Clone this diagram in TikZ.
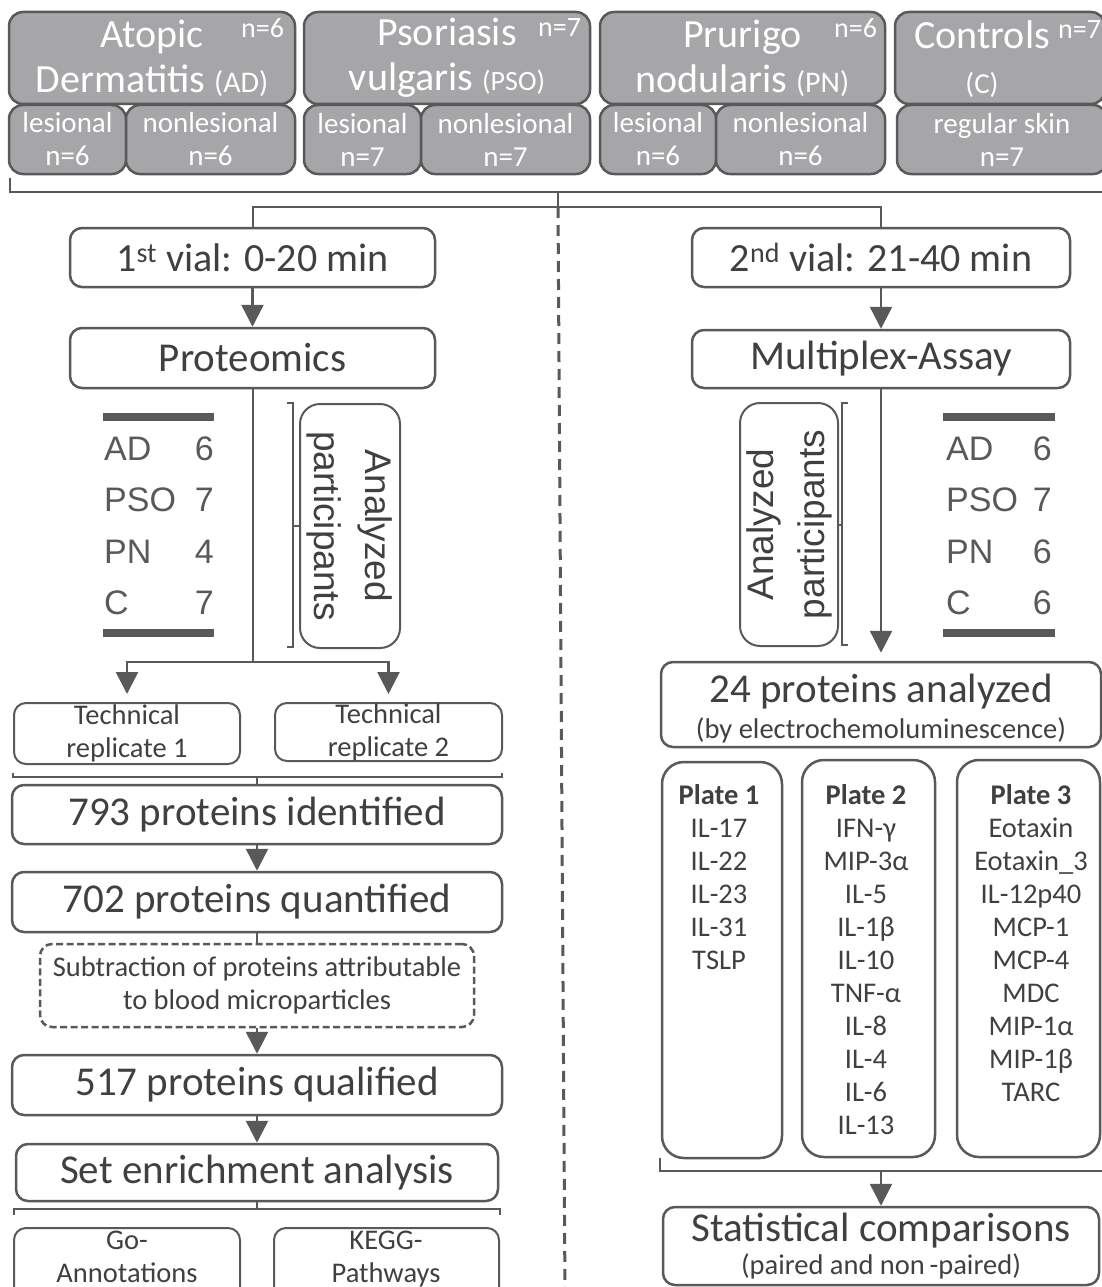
\documentclass[tikz,border=0pt]{standalone}
\usepackage{fontspec}
\setmainfont{Carlito}
\newfontfamily\tabfont{Liberation Sans}
\usetikzlibrary{arrows.meta, positioning}
\definecolor{linegray}{HTML}{595959}
\definecolor{textgray}{HTML}{404040}
\definecolor{boxgray}{HTML}{A6A6A8}
\newcommand{\setfs}[2]{\fontsize{#1pt}{#2pt}\selectfont}

\tikzset{
  graybox/.style={draw=linegray, line width=2.5pt, fill=boxgray, rounded corners=14pt, inner sep=0pt, text=white, align=center},
  bigbox/.style={graybox, minimum height=92pt, font=\setfs{40}{45}},
  subbox/.style={graybox, minimum height=69pt, font=\setfs{29}{33}},
  nlab/.style={inner sep=0pt, text=white, font=\setfs{28}{30}},
  flowbox/.style={draw=linegray, line width=2.5pt, rounded corners=12pt, inner sep=0pt, text=textgray, align=center, font=\setfs{41}{46}},
  smallbox/.style={flowbox, line width=2pt, font=\setfs{28.5}{33}},
  smalltxt/.style={inner sep=0pt, text=textgray, align=center, font=\setfs{28.5}{33}},
  platebox/.style={draw=linegray, line width=2.5pt, rounded corners=22pt, inner sep=0pt},
  platetxt/.style={smalltxt, anchor=north},
  partbox/.style={flowbox, line width=2pt, rounded corners=20pt, font=\tabfont\setfs{37}{51}},
  conn/.style={draw=linegray, line width=2.5pt},
  arr/.style={conn, -{Triangle[length=22pt, width=22pt]}},
  brack/.style={draw=linegray, line width=2pt},
  tabrule/.style={draw=linegray, line width=8pt},
  tablab/.style={text=linegray, inner sep=0pt, font=\tabfont\setfs{34}{38}},
}

\begin{document}
\begin{tikzpicture}[x=1pt, y=-1pt]
\useasboundingbox (0,0) rectangle (1101,1287);

% patient groups
\node[bigbox, minimum width=286pt] (ad) at (152,58) {Atopic\\Dermatitis {\setfs{30}{30}(AD)}};
\node[nlab, below left=8pt and 12pt of ad.north east] (adn) {n=6};
\node[subbox, minimum width=117pt] (adl) at (67.5,139.5) {lesional\\n=6};
\node[subbox, minimum width=169pt] (adnl) at (210.5,139.5) {nonlesional\\n=6};

\node[bigbox, minimum width=286pt] (pso) at (447,58) {Psoriasis\\vulgaris {\setfs{28}{30}(PSO)}};
\node[nlab, below left=8pt and 10pt of pso.north east] (pson) {n=7};
\node[subbox, minimum width=117pt] (psol) at (362.5,139.5) {lesional\\n=7};
\node[subbox, minimum width=169pt] (psonl) at (505.5,139.5) {nonlesional\\n=7};

\node[bigbox, minimum width=285pt] (pn) at (742.5,58) {Prurigo\\nodularis {\setfs{30}{30}(PN)}};
\node[nlab, below left=8pt and 9pt of pn.north east] (pnn) {n=6};
\node[subbox, minimum width=116pt] (pnl) at (658,139.5) {lesional\\n=6};
\node[subbox, minimum width=169pt] (pnnl) at (800.5,139.5) {nonlesional\\n=6};

\node[bigbox, minimum width=210pt] (ctl) at (1000,58) {};
\node[nlab, font=\setfs{40}{45}, align=center] (ctltxt) at (982,59) {Controls\\{\setfs{29}{30}(C)}};
\node[nlab, anchor=north west] (ctln) at (1058,20) {n=7};
\node[subbox, minimum width=210pt] (ctlr) at (1002,139.5) {regular skin\\n=7};

% split into the two vials
\draw[brack] (10,178) -- (10,192) -- (1105,192);
\coordinate (brtop) at (558,192);
\coordinate (split) at (558,207);
\draw[conn, line width=2pt] (brtop) -- (split);
\draw[linegray, line width=3pt, dash pattern=on 11pt off 7pt] (split) -- (565,1295);

\node[flowbox, minimum width=365pt, minimum height=59pt, font=\setfs{40}{44}] (vial1) at (252.5,257.5) {1\textsuperscript{st} vial: 0-20 min};
\node[flowbox, minimum width=378pt, minimum height=59pt, font=\setfs{40}{44}] (vial2) at (881,257.5) {2\textsuperscript{nd} vial: 21-40 min};
\draw[conn, line width=2pt] (vial1.north) |- (split) -| (vial2.north);

\node[flowbox, minimum width=365pt, minimum height=60pt] (prot) at (252.5,358) {Proteomics};
\node[flowbox, minimum width=378pt, minimum height=58pt] (multi) at (881,359) {Multiplex-Assay};
\draw[arr] (vial1) -- (prot);
\draw[arr] (vial2) -- (multi);

% analyzed participants, left
\draw[tabrule] (103,417) -- (214,417);
\draw[tabrule] (103,633) -- (214,633);
\foreach \lab/\num/\yy in {AD/6/460, PSO/7/511, PN/4/563, C/7/614}{
  \node[tablab, anchor=base west] (tl\lab) at (104,\yy) {\lab};
  \node[tablab, anchor=base east] (tn\lab) at (214,\yy) {\num};
}
\node[partbox, rotate=-90, minimum width=244pt, minimum height=100pt] (anaL) at (350,526) {Analyzed\\participants};
\draw[brack] (287,403) -- (293,403) -- (293,647) -- (287,647);
\draw[brack] (anaL.south) -- ++(-7,0);

% analyzed participants, right
\draw[tabrule] (943,417) -- (1055,417);
\draw[tabrule] (943,633) -- (1055,633);
\foreach \lab/\num/\yy in {AD/6/460, PSO/7/511, PN/6/563, C/6/614}{
  \node[tablab, anchor=base west] (tr\lab) at (946,\yy) {\lab};
  \node[tablab, anchor=base east] (trn\lab) at (1052,\yy) {\num};
}
\node[partbox, rotate=90, minimum width=243pt, minimum height=98pt] (anaR) at (789,524.5) {Analyzed\\participants};
\draw[brack] (848,403) -- (842,403) -- (842,645) -- (848,645);
\draw[brack] (anaR.south) -- ++(4,0);

% proteomics branch
\coordinate (fork) at (252.5,662);
\draw[conn, line width=2pt] (prot) -- (fork);
\node[smallbox, minimum width=226pt, minimum height=61pt] (rep1) at (127,733.5) {Technical\\replicate 1};
\node[smallbox, minimum width=227pt, minimum height=58pt] (rep2) at (388.5,732) {Technical\\replicate 2};
\draw[arr, shorten >=8pt] (fork) -| (rep1);
\draw[arr, shorten >=8pt] (fork) -| (rep2);
\draw[brack] (12.5,773) -- (12.5,777) -- (502,777) -- (502,773);

\node[flowbox, minimum width=490pt, minimum height=59pt] (b793) at (257,814.5) {793 proteins identified};
\node[flowbox, minimum width=490pt, minimum height=60pt] (b702) at (257,902) {702 proteins quantified};
\node[smallbox, line width=2.5pt, dash pattern=on 7pt off 3.5pt, minimum width=434pt, minimum height=83pt] (subtr) at (257,985.5) {Subtraction of proteins attributable\\to blood microparticles};
\node[flowbox, minimum width=490pt, minimum height=60pt] (b517) at (257,1085) {517 proteins qualified};
\node[flowbox, minimum width=482pt, minimum height=57pt] (setea) at (257,1172.5) {Set enrichment analysis};
\draw[brack] (257,777) -- (b793);
\draw[arr] (b793) -- (b702);
\draw[conn] (b702) -- (subtr);
\draw[arr] (subtr) -- (b517);
\draw[arr] (b517) -- (setea);
\draw[brack] (setea) -- (257,1209);
\draw[brack] (13.5,1215) -- (13.5,1209) -- (500,1209) -- (500,1215);

\node[smallbox, minimum width=226pt, minimum height=80pt] (go) at (127,1268) {};
\node[smalltxt, anchor=north] (gotxt) at (127,1231) {Go-\\Annotations};
\node[smallbox, minimum width=225pt, minimum height=80pt] (kegg) at (386.5,1268) {};
\node[smalltxt, anchor=north] (keggtxt) at (386,1231) {KEGG-\\Pathways};

% multiplex branch
\node[flowbox, minimum width=440pt, minimum height=85pt] (p24) at (881,704.5) {};
\node[smalltxt, font=\setfs{41}{36}, text=textgray] (p24txt) at ([yshift=-4pt]p24.center) {24 proteins analyzed\\{\setfs{28.5}{36}(by electrochemoluminescence)}};
\draw[arr, shorten >=8pt] (multi) -- (p24);

\node[platebox, minimum width=120pt, minimum height=396pt] (pl1) at (722,960) {};
\node[platebox, minimum width=133pt, minimum height=397pt] (pl2) at (868.5,958.5) {};
\node[platebox, minimum width=143pt, minimum height=397pt] (pl3) at (1028.5,958.5) {};
\node[platetxt] (pl1txt) at (719,784) {\textbf{Plate 1}\\IL-17\\IL-22\\IL-23\\IL-31\\TSLP};
\node[platetxt] (pl2txt) at (866,784) {\textbf{Plate 2}\\IFN-γ\\MIP-3α\\IL-5\\IL-1β\\IL-10\\TNF-α\\IL-8\\IL-4\\IL-6\\IL-13};
\node[platetxt] (pl3txt) at (1031,784) {\textbf{Plate 3}\\Eotaxin\\Eotaxin\_3\\IL-12p40\\MCP-1\\MCP-4\\MDC\\MIP-1α\\MIP-1β\\TARC};

\draw[brack] (660,1158) -- (660,1171) -- (1105,1171);
\coordinate (plfork) at (881,1171);
\node[flowbox, minimum width=436pt, minimum height=78pt, font=\setfs{41}{33}] (stat) at (881,1246) {Statistical comparisons\\{\setfs{28.5}{33}(paired and non\,-paired)}};
\draw[arr] (plfork) -- (stat);

\end{tikzpicture}
\end{document}
